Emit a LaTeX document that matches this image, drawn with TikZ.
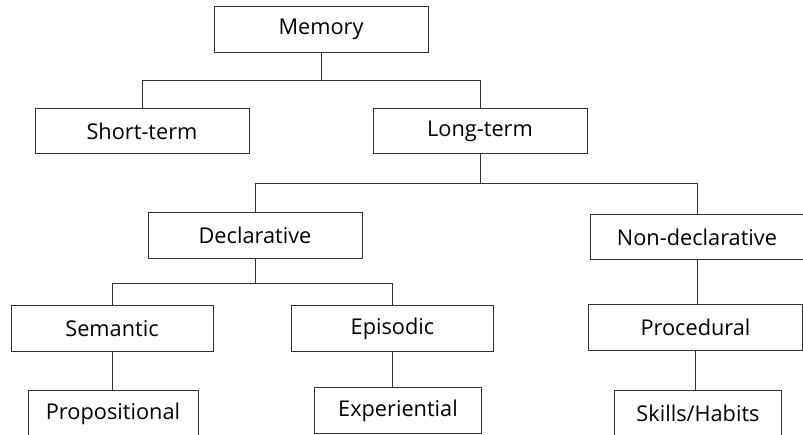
\documentclass[tikz,border=0pt]{standalone}
\usepackage{fontspec}
\setmainfont{Open Sans}

\begin{document}
\begin{tikzpicture}[
    x = 0.75pt,
    y = -0.75pt,
    category/.style = {draw = black!80,
      line width = 0.75pt,
      font = \fontsize{16.3}{18}\selectfont,
      inner sep = 0pt,
      minimum width = 160.5pt,
      minimum height = 34pt},
    narrow/.style = {minimum width = 151.5pt},
    leaf/.style = {minimum width = 125pt},
    link/.style = {draw = black!80, line width = 0.75pt},
    ]

    \useasboundingbox (0, 0) rectangle (803, 435);
    \clip (0, 0) rectangle (803, 435);

    \node at (321, 29.5)
    [category, name = memory] {Memory};

    \node at (142, 131)
    [category, name = short] {Short-term};
    \node at (480, 131)
    [category, name = long] {Long-term};

    \node at (255, 235.5)
    [category, name = decl] {Declarative};
    \node at (697, 237)
    [category, name = nondecl] {Non-declarative};

    \node at (112, 328.5)
    [category, narrow, name = semantic] {Semantic};
    \node at (392.5, 328.5)
    [category, narrow, name = episodic] {Episodic};
    \node at (695.5, 327.5)
    [category, narrow, minimum width = 160pt, name = procedural] {Procedural};

    \node at (113, 413.5)
    [category, leaf, minimum width = 127.5pt, name = propositional] {Propositional};
    \node at (398, 410.5)
    [category, leaf, name = experiential] {Experiential};
    \node at (698, 413.5)
    [category, leaf, name = skills] {Skills/Habits};

    \draw [link] (memory.south) -- +(0, 28) -| (short.north);
    \draw [link] (memory.south) -- +(0, 28) -| (long.north);

    \draw [link] (long.south) -- +(0, 29) -| (decl.north);
    \draw [link] (long.south) -- +(0, 29) -| (nondecl.north);

    \draw [link] (decl.south) -- +(0, 25) -| (semantic.north);
    \draw [link] (decl.south) -- +(0, 25) -| (episodic.north);

    \draw [link] (nondecl.south) -- (procedural.north -| nondecl.south);
    \draw [link] (semantic.south) -- (propositional.north -| semantic.south);
    \draw [link] (episodic.south) -- (experiential.north -| episodic.south);
    \draw [link] (procedural.south) -- (skills.north -| procedural.south);

  \end{tikzpicture}
\end{document}
